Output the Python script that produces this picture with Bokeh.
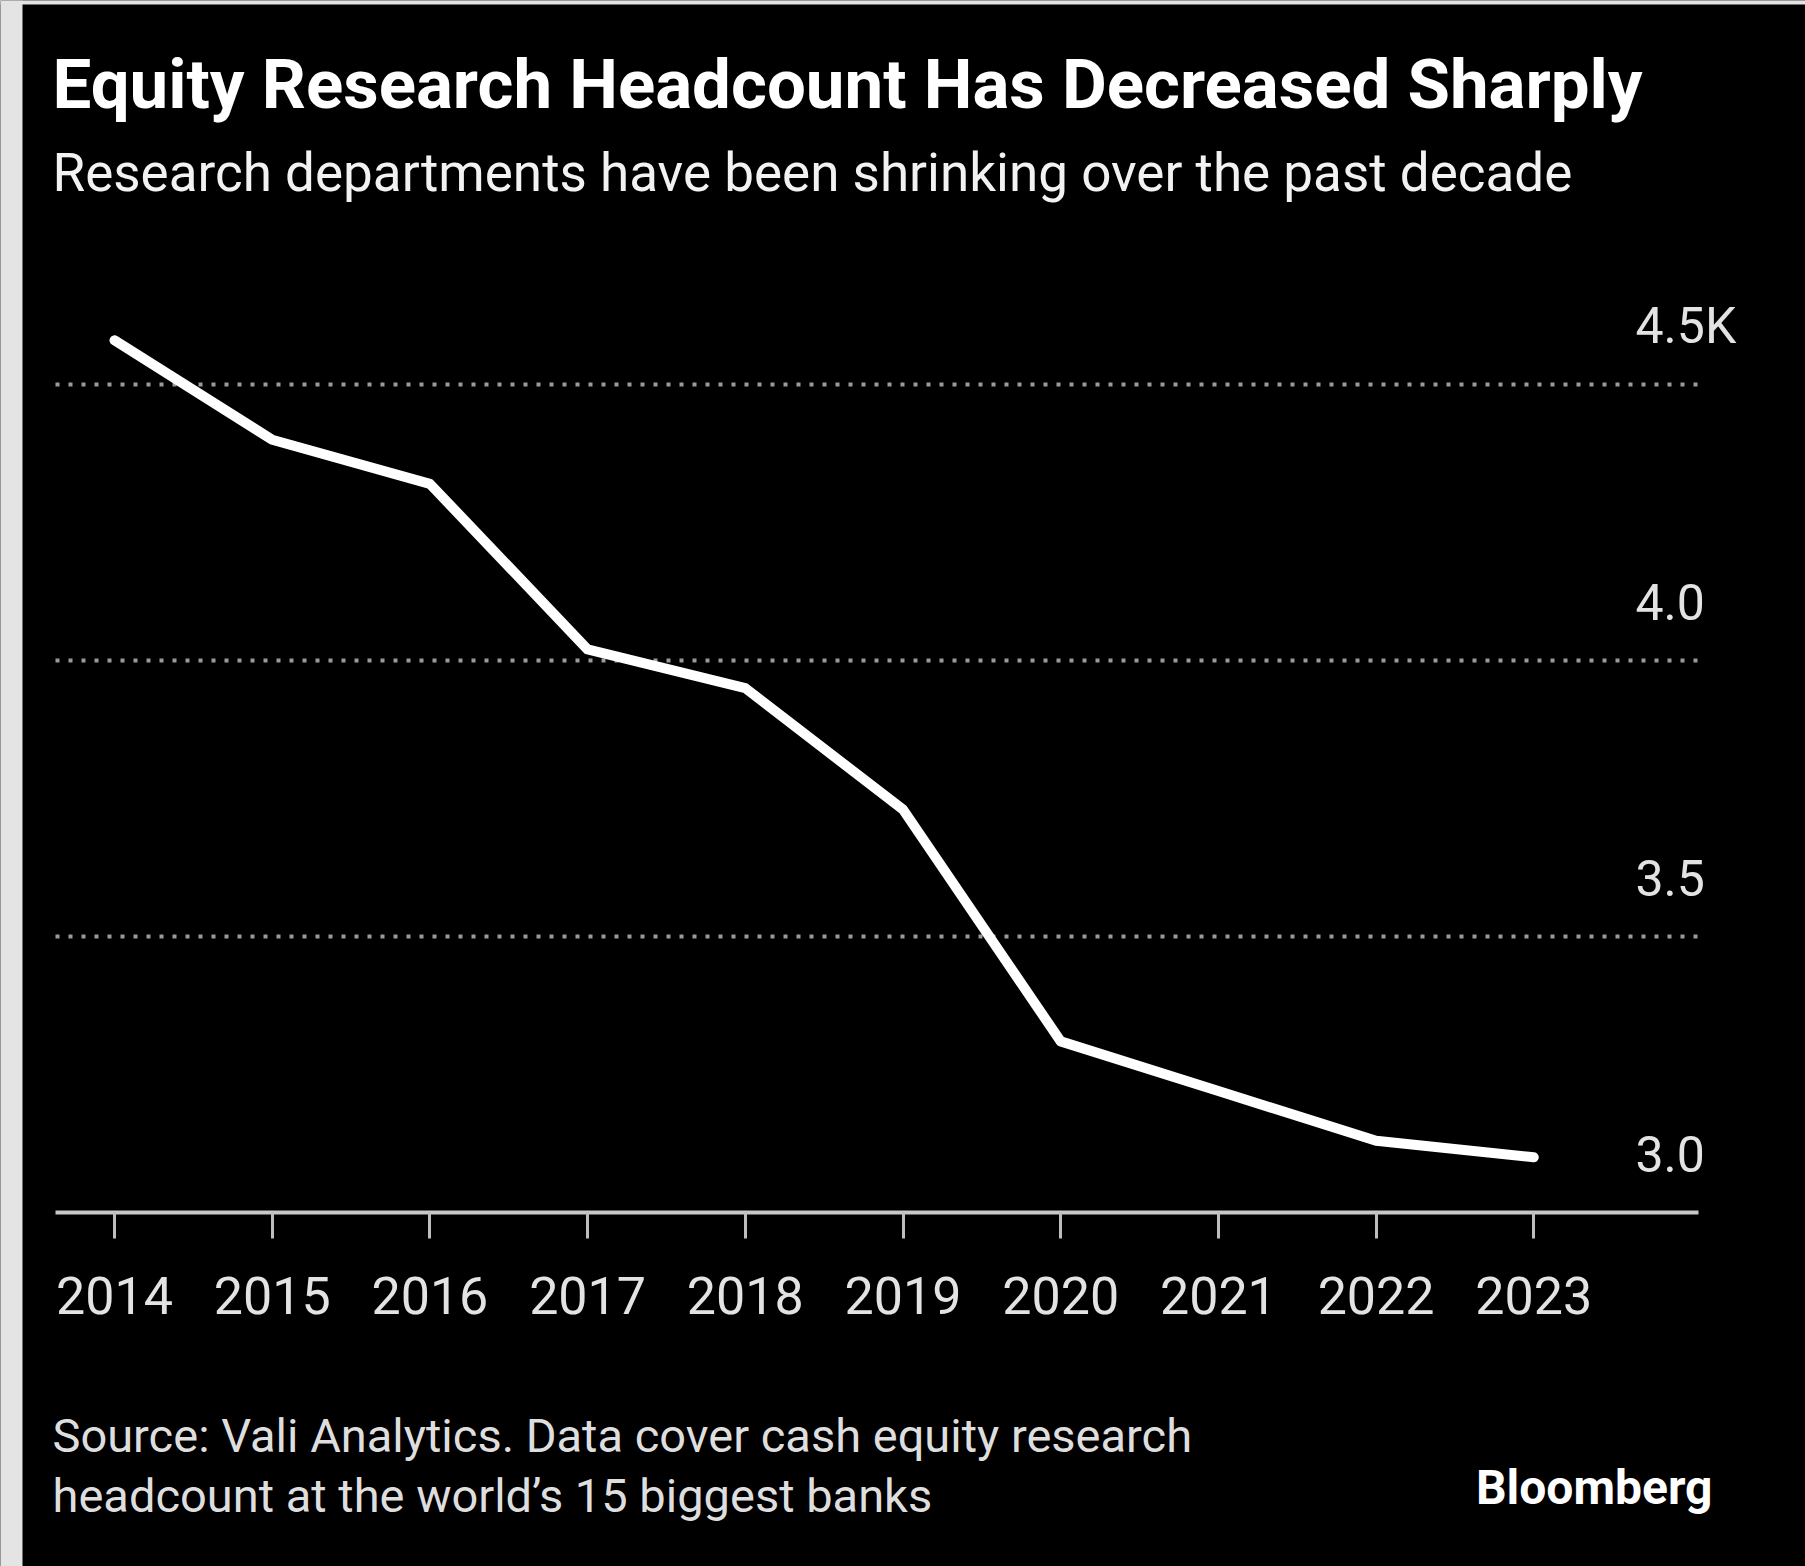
from bokeh.plotting import figure
from bokeh.models import FixedTicker, Label, BoxAnnotation
from bokeh.embed import file_html
from bokeh.resources import INLINE

# ---- data (thousands of analysts) ----
years = [2014, 2015, 2016, 2017, 2018, 2019, 2020, 2021, 2022, 2023]
headcount_k = [4.58, 4.40, 4.32, 4.02, 3.95, 3.73, 3.31, 3.22, 3.13, 3.10]
y_ticks = [3.0, 3.5, 4.0, 4.5]
y_tick_labels = ["3.0", "3.5", "4.0", "4.5K"]
title_text = "Equity Research Headcount Has Decreased Sharply"
subtitle_text = "Research departments have been shrinking over the past decade"
note_lines = ["Source: Vali Analytics. Data cover cash equity research",
              "headcount at the world\u2019s 15 biggest banks"]
brand_text = "Bloomberg"

FONT = "Roboto"

# ---- page geometry (pixels) ----
W, H = 1805, 1566
X0_PX, DX = 114.0, 157.7      # pixel x of first year, pixels per year
Y0_PX, DY = 1212.0, 552.0     # pixel y of baseline value, pixels per 1K
ASC = 0.37                    # label anchor correction (fraction of font size)


def dx(px):
    return years[0] + (px - X0_PX) / DX


def dy(py):
    return y_ticks[0] + (Y0_PX - py) / DY


def text_y(baseline_px, size):
    return dy(baseline_px - ASC * size)


p = figure(width=W, height=H,
           x_range=(dx(0), dx(W)), y_range=(dy(H), dy(0)),
           output_backend="svg", toolbar_location=None,
           y_axis_location=None,
           min_border_left=0, min_border_right=0,
           min_border_top=0, min_border_bottom=0,
           background_fill_color="black", border_fill_color="black",
           outline_line_color=None)
p.xgrid.visible = False
p.ygrid.visible = False

# light page strips at the far left / top
p.add_layout(BoxAnnotation(right=dx(22), fill_color="#e4e4e4", fill_alpha=1.0,
                           line_color=None))
p.add_layout(BoxAnnotation(bottom=dy(4), fill_color="#e4e4e4", fill_alpha=1.0,
                           line_color=None))

# dotted gridlines
grid_vals = y_ticks[1:]
p.segment(x0=[dx(55)] * len(grid_vals), x1=[dx(1704)] * len(grid_vals),
          y0=grid_vals, y1=grid_vals, line_color="#9a9a9a",
          line_width=4, line_dash="4 9")

# baseline
p.segment(x0=[dx(55)], x1=[dx(1698)], y0=[y_ticks[0]], y1=[y_ticks[0]],
          line_color="#c8c8c8", line_width=4)

# x axis (ticks + labels) sitting on the baseline
ax = p.xaxis[0]
ax.fixed_location = y_ticks[0]
ax.ticker = FixedTicker(ticks=years)
ax.major_label_overrides = {y: str(y) for y in years}
ax.axis_line_color = None
ax.major_tick_line_color = "#bdbdbd"
ax.major_tick_line_width = 3
ax.major_tick_out = 26
ax.major_tick_in = 0
ax.minor_tick_line_color = None
ax.major_label_text_font = FONT
ax.major_label_text_font_size = "52px"
ax.major_label_text_color = "#e3e3e3"
ax.major_label_standoff = 38

# data line
p.line(years, headcount_k, line_color="white", line_width=10,
       line_cap="round", line_join="round")

# y tick labels (above gridlines, right side)
for v, lab in zip(y_ticks, y_tick_labels):
    p.add_layout(Label(x=dx(1635), y=v, text=lab, y_offset=40 + ASC * 50,
                       text_font=FONT, text_font_size="50px",
                       text_color="#e3e3e3", text_align="left",
                       text_baseline="alphabetic"))

# titles
p.add_layout(Label(x=dx(52), y=text_y(110, 69), text=title_text, text_font=FONT,
                   text_font_style="bold", text_font_size="69px",
                   text_color="white", text_baseline="alphabetic"))
p.add_layout(Label(x=dx(52), y=text_y(192, 53), text=subtitle_text, text_font=FONT,
                   text_font_size="53px", text_color="#f2f2f2",
                   text_baseline="alphabetic"))

# footnote
for i, line in enumerate(note_lines):
    p.add_layout(Label(x=dx(52), y=text_y(1452 + 60 * i, 47), text=line,
                       text_font=FONT, text_font_size="47px",
                       text_color="#dedede", text_baseline="alphabetic"))
p.add_layout(Label(x=dx(1712), y=text_y(1505, 48), text=brand_text, text_font=FONT,
                   text_font_style="bold", text_font_size="48px",
                   text_color="white", text_align="right",
                   text_baseline="alphabetic"))

open("out.html", "w").write(file_html(p, INLINE))
